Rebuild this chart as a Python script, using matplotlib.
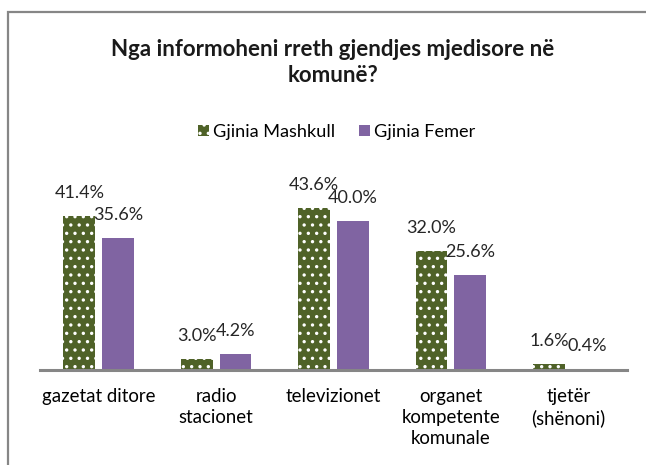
import numpy as np
import matplotlib
matplotlib.use('Agg')
import matplotlib.pyplot as plt
from matplotlib.patches import Rectangle, Patch

categories = ['gazetat ditore', 'radio\nstacionet', 'televizionet',
              'organet\nkompetente\nkomunale', 'tjetër\n(shënoni)']
mashkull = [41.4, 3.0, 43.6, 32.0, 1.6]
femer = [35.6, 4.2, 40.0, 25.6, 0.4]
series_names = ['Gjinia Mashkull', 'Gjinia Femer']

green = '#4F6228'
purple = '#8064A2'

plt.rcParams['font.family'] = ['Lato', 'DejaVu Sans']
plt.rcParams['hatch.linewidth'] = 1.2

fig = plt.figure(figsize=(6.46, 4.65), dpi=100)
ax = fig.add_axes([0.0619, 0.2043, 0.9087, 0.40])

x = np.arange(len(categories))
w = 0.27
off = 0.165

b1 = ax.bar(x - off, mashkull, w, color=green, edgecolor='white',
            linewidth=0, hatch='..')
b2 = ax.bar(x + off, femer, w, color=purple, linewidth=0)

# data labels above each bar
for bars, vals in [(b1, mashkull), (b2, femer)]:
    for b, v in zip(bars, vals):
        ax.annotate('%.1f%%' % v, (b.get_x() + b.get_width() / 2, v),
                    xytext=(0, 16.5), textcoords='offset points',
                    ha='center', va='center', fontsize=13,
                    color='#262626')

ax.set_xlim(-0.5, len(categories) - 0.5)
ax.set_ylim(0, 50)
ax.set_yticks([])
ax.set_xticks(x)
ax.set_xticklabels(categories, fontsize=13.4, color='#000000', linespacing=1.3)
ax.tick_params(axis='x', length=0, pad=13)
for s in ['top', 'right', 'left']:
    ax.spines[s].set_visible(False)
ax.spines['bottom'].set_color('#868686')
ax.spines['bottom'].set_linewidth(2.2)

fig.text(0.515, 0.866, 'Nga informoheni rreth gjendjes mjedisore në\nkomunë?',
         ha='center', va='center', fontsize=16, fontweight='bold',
         linespacing=1.3, color='#1a1a1a')

handles = [Patch(facecolor=green, edgecolor='white', linewidth=0, hatch='..'),
           Patch(facecolor=purple, linewidth=0)]
fig.legend(handles, series_names, loc='center', bbox_to_anchor=(0.5217, 0.716),
           ncol=2, frameon=False, fontsize=13.1, handlelength=0.6,
           handleheight=0.6, handletextpad=0.22, columnspacing=1.32)

# chart frame (only left and top edges fall inside the picture)
fig.patches.append(Rectangle((8 / 646, -0.1), 1.2, 1.1 - 12 / 465,
                             transform=fig.transFigure, fill=False,
                             edgecolor='#868686', linewidth=1.6))

fig.savefig('out.png', dpi=100)
